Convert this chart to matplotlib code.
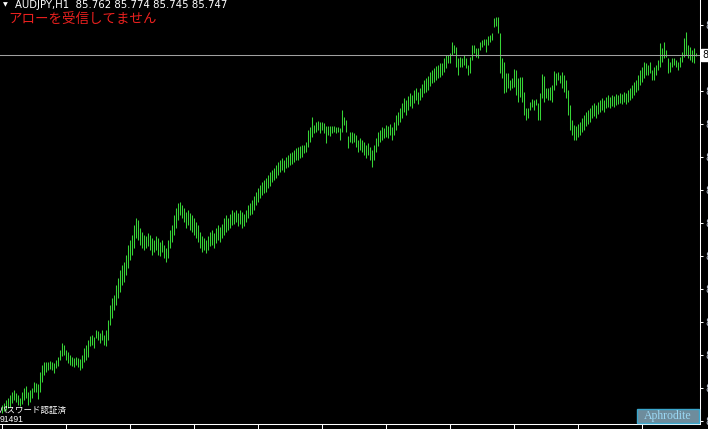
import matplotlib
matplotlib.use('Agg')
import matplotlib.pyplot as plt
from matplotlib.patches import Rectangle

W, H = 708, 429

symbol = 'AUDJPY,H1'
last_ohlc = [85.762, 85.774, 85.745, 85.747]
arrow_msg = 'アローを受信してません'
auth_msg = 'パスワード認証済'
account = '91491'
ea_name = 'Aphrodite'

# H1 bars, high / low in yen
highs = [
    82.25, 82.27, 82.30, 82.32, 82.35, 82.38, 82.40, 82.37, 82.35, 82.32,
    82.38, 82.42, 82.44, 82.38, 82.40, 82.42, 82.48, 82.47, 82.46, 82.58,
    82.65, 82.68, 82.68, 82.68, 82.69, 82.68, 82.67, 82.70, 82.73, 82.80,
    82.87, 82.85, 82.80, 82.78, 82.75, 82.73, 82.72, 82.73, 82.72, 82.71,
    82.75, 82.82, 82.85, 82.90, 82.94, 82.95, 82.93, 83.00, 82.99, 82.97,
    83.00, 82.95, 83.00, 83.10, 83.25, 83.32, 83.35, 83.45, 83.52, 83.60,
    83.65, 83.68, 83.75, 83.85, 83.90, 83.95, 84.05, 84.12, 84.10, 84.02,
    83.98, 83.95, 83.94, 83.97, 83.95, 83.92, 83.90, 83.94, 83.92, 83.88,
    83.90, 83.85, 83.82, 83.90, 84.00, 84.05, 84.15, 84.22, 84.27, 84.28,
    84.25, 84.22, 84.18, 84.20, 84.17, 84.15, 84.12, 84.08, 84.05, 83.98,
    83.94, 83.92, 83.90, 83.94, 83.98, 84.00, 83.97, 84.02, 84.05, 84.03,
    84.06, 84.12, 84.15, 84.12, 84.16, 84.20, 84.18, 84.20, 84.17, 84.20,
    84.18, 84.16, 84.20, 84.25, 84.27, 84.30, 84.34, 84.38, 84.42, 84.45,
    84.48, 84.50, 84.52, 84.55, 84.58, 84.60, 84.62, 84.65, 84.68, 84.70,
    84.72, 84.70, 84.73, 84.75, 84.77, 84.78, 84.80, 84.82, 84.83, 84.84,
    84.85, 84.85, 84.88, 85.00, 85.03, 85.13, 85.05, 85.08, 85.09, 85.08,
    85.08, 85.07, 85.04, 85.04, 85.04, 85.04, 85.04, 85.03, 85.03, 85.02,
    85.20, 85.13, 85.10, 84.94, 84.98, 84.98, 84.97, 84.95, 84.90, 84.92,
    84.90, 84.88, 84.85, 84.87, 84.83, 84.80, 84.85, 84.92, 84.98, 85.00,
    85.03, 85.02, 85.05, 85.04, 85.06, 85.03, 85.08, 85.15, 85.18, 85.22,
    85.27, 85.32, 85.30, 85.34, 85.37, 85.35, 85.40, 85.42, 85.38, 85.42,
    85.46, 85.50, 85.52, 85.54, 85.58, 85.60, 85.62, 85.64, 85.65, 85.67,
    85.67, 85.72, 85.75, 85.75, 85.77, 85.88, 85.85, 85.83, 85.72, 85.73,
    85.72, 85.75, 85.72, 85.65, 85.73, 85.85, 85.85, 85.82, 85.82, 85.88,
    85.90, 85.91, 85.91, 85.94, 85.95, 85.97, 86.12, 86.13, 86.13, 85.97,
    85.72, 85.68, 85.57, 85.57, 85.50, 85.52, 85.61, 85.60, 85.52, 85.53,
    85.53, 85.38, 85.22, 85.22, 85.28, 85.31, 85.30, 85.31, 85.27, 85.37,
    85.56, 85.54, 85.42, 85.42, 85.43, 85.45, 85.59, 85.57, 85.58, 85.55,
    85.58, 85.55, 85.50, 85.40, 85.25, 85.10, 85.05, 85.04, 85.06, 85.08,
    85.12, 85.15, 85.18, 85.20, 85.22, 85.25, 85.27, 85.25, 85.28, 85.30,
    85.32, 85.30, 85.33, 85.35, 85.33, 85.35, 85.34, 85.36, 85.35, 85.37,
    85.36, 85.38, 85.37, 85.40, 85.42, 85.45, 85.48, 85.50, 85.55, 85.60,
    85.63, 85.68, 85.67, 85.65, 85.68, 85.60, 85.63, 85.65, 85.70, 85.87,
    85.82, 85.88, 85.80, 85.72, 85.68, 85.72, 85.72, 85.70, 85.68, 85.73,
    85.78, 85.92, 85.98, 85.85, 85.83, 85.80, 85.82, 85.774,
]
lows = [
    82.17, 82.19, 82.20, 82.22, 82.23, 82.27, 82.30, 82.28, 82.25, 82.24,
    82.26, 82.30, 82.32, 82.25, 82.28, 82.32, 82.38, 82.38, 82.31, 82.38,
    82.48, 82.55, 82.58, 82.60, 82.61, 82.60, 82.57, 82.62, 82.64, 82.70,
    82.74, 82.75, 82.70, 82.67, 82.65, 82.64, 82.63, 82.65, 82.63, 82.60,
    82.62, 82.68, 82.70, 82.73, 82.84, 82.85, 82.82, 82.92, 82.90, 82.87,
    82.90, 82.85, 82.84, 82.90, 83.05, 83.12, 83.20, 83.25, 83.32, 83.38,
    83.45, 83.48, 83.55, 83.62, 83.70, 83.75, 83.82, 83.92, 83.90, 83.85,
    83.82, 83.80, 83.82, 83.84, 83.80, 83.75, 83.78, 83.80, 83.75, 83.74,
    83.78, 83.72, 83.68, 83.72, 83.82, 83.88, 83.95, 84.02, 84.10, 84.15,
    84.12, 84.08, 84.02, 84.05, 84.00, 83.98, 83.95, 83.92, 83.88, 83.82,
    83.78, 83.80, 83.77, 83.80, 83.84, 83.85, 83.82, 83.87, 83.90, 83.88,
    83.92, 83.95, 83.98, 84.00, 84.02, 84.05, 84.06, 84.08, 84.04, 84.06,
    84.02, 84.04, 84.08, 84.12, 84.15, 84.16, 84.20, 84.25, 84.28, 84.32,
    84.35, 84.37, 84.38, 84.42, 84.44, 84.48, 84.50, 84.52, 84.55, 84.58,
    84.60, 84.58, 84.62, 84.63, 84.65, 84.66, 84.68, 84.70, 84.70, 84.72,
    84.73, 84.77, 84.78, 84.83, 84.88, 84.93, 84.97, 84.98, 85.00, 84.97,
    85.00, 84.97, 84.87, 84.95, 84.94, 84.97, 84.98, 84.97, 84.98, 84.90,
    84.98, 85.05, 84.98, 84.82, 84.88, 84.87, 84.88, 84.83, 84.78, 84.80,
    84.78, 84.75, 84.72, 84.75, 84.70, 84.63, 84.70, 84.78, 84.84, 84.88,
    84.90, 84.92, 84.93, 84.92, 84.95, 84.90, 84.95, 85.00, 85.05, 85.08,
    85.12, 85.18, 85.15, 85.20, 85.24, 85.22, 85.27, 85.30, 85.26, 85.30,
    85.33, 85.37, 85.38, 85.40, 85.44, 85.47, 85.48, 85.50, 85.52, 85.53,
    85.55, 85.58, 85.62, 85.67, 85.67, 85.75, 85.77, 85.63, 85.55, 85.63,
    85.63, 85.65, 85.62, 85.55, 85.57, 85.70, 85.77, 85.73, 85.72, 85.80,
    85.83, 85.85, 85.78, 85.85, 85.88, 85.90, 86.03, 86.04, 85.97, 85.57,
    85.52, 85.37, 85.38, 85.42, 85.40, 85.42, 85.43, 85.35, 85.28, 85.33,
    85.28, 85.15, 85.10, 85.12, 85.20, 85.23, 85.20, 85.25, 85.10, 85.10,
    85.32, 85.28, 85.32, 85.30, 85.30, 85.28, 85.40, 85.45, 85.50, 85.47,
    85.42, 85.38, 85.32, 85.15, 85.00, 84.95, 84.90, 84.90, 84.93, 84.95,
    84.98, 85.00, 85.04, 85.06, 85.08, 85.12, 85.14, 85.12, 85.16, 85.18,
    85.20, 85.18, 85.22, 85.23, 85.22, 85.24, 85.23, 85.25, 85.26, 85.27,
    85.26, 85.28, 85.26, 85.28, 85.30, 85.32, 85.35, 85.38, 85.40, 85.45,
    85.48, 85.52, 85.55, 85.55, 85.57, 85.50, 85.50, 85.55, 85.60, 85.63,
    85.68, 85.72, 85.73, 85.57, 85.58, 85.63, 85.65, 85.63, 85.60, 85.63,
    85.68, 85.73, 85.75, 85.72, 85.70, 85.68, 85.67, 85.745,
]

price_ticks = [86.05, 85.72, 85.39, 85.06, 84.73, 84.40, 84.07,
               83.74, 83.41, 83.08, 82.75, 82.42, 82.09]
price_labels = ['86.050', '85.720', '85.390', '85.060', '84.730', '84.400', '84.070',
                '83.740', '83.410', '83.080', '82.750', '82.420', '82.090']
time_ticks = [0, 32, 64, 96, 128, 160, 192, 224, 256, 288, 320]


def fx(x):
    return x / W


def fy(y):
    return 1 - y / H


fig = plt.figure(figsize=(W / 100, H / 100), dpi=100, facecolor='black')
ax = fig.add_axes([0, 5 / H, 700 / W, 424 / H])
ax.set_facecolor('black')

bars = list(range(len(highs)))
ax.vlines(bars, lows, highs, colors='#36d436', lw=0.75)
ax.axhline(last_ohlc[3], color='#a0a0a0', lw=0.75)

ax.set_xlim(-0.75, 349.25)
ax.set_ylim(82.06, 86.30)

for s in ['top', 'left']:
    ax.spines[s].set_visible(False)
for s in ['bottom', 'right']:
    ax.spines[s].set_color('white')
    ax.spines[s].set_linewidth(0.75)

ax.set_xticks(time_ticks)
ax.set_xticklabels([])
ax.yaxis.tick_right()
ax.set_yticks(price_ticks)
ax.set_yticklabels(price_labels)
ax.tick_params(axis='x', colors='white', length=3.5, width=0.75, direction='out')
ax.tick_params(axis='y', colors='white', labelcolor='#c8d0e0', length=2.5, width=0.75,
               direction='out', pad=1.2, labelsize=7)

# current price box on the price scale
fig.text(fx(702), fy(55), '85.747', fontsize=7, color='black', va='center', ha='left',
         bbox=dict(boxstyle='square,pad=0.15', fc='white', ec='white'))

# header
fig.text(fx(3), fy(5), '▼', fontsize=4.5, color='white', va='center', ha='left')
fig.text(fx(15), fy(5), symbol + '  ' + ' '.join('%.3f' % v for v in last_ohlc),
         fontsize=7.3, family='DejaVu Sans', color='white', va='center', ha='left')
fig.text(fx(8), fy(19), arrow_msg, fontsize=9.7, family='Noto Sans CJK JP',
         color='#e8201e', va='center', ha='left')

# bottom left labels
fig.text(fx(-2), fy(410.5), auth_msg, fontsize=6.1, family='Noto Sans CJK JP',
         color='white', va='center', ha='left')
fig.text(fx(0), fy(419.5), account, fontsize=6.2, family='Liberation Sans',
         color='white', va='center', ha='left')

# EA label
fig.add_artist(Rectangle((fx(637), fy(423)), 62 / W, 14 / H, transform=fig.transFigure,
                         facecolor='#6e8c9c', edgecolor='#3aa6cc', lw=1))
fig.text(fx(668), fy(416), ea_name, fontsize=8.5, family='Liberation Serif',
         color='#9ad8f4', va='center', ha='center')

fig.savefig('out.png', dpi=100, facecolor='black')
